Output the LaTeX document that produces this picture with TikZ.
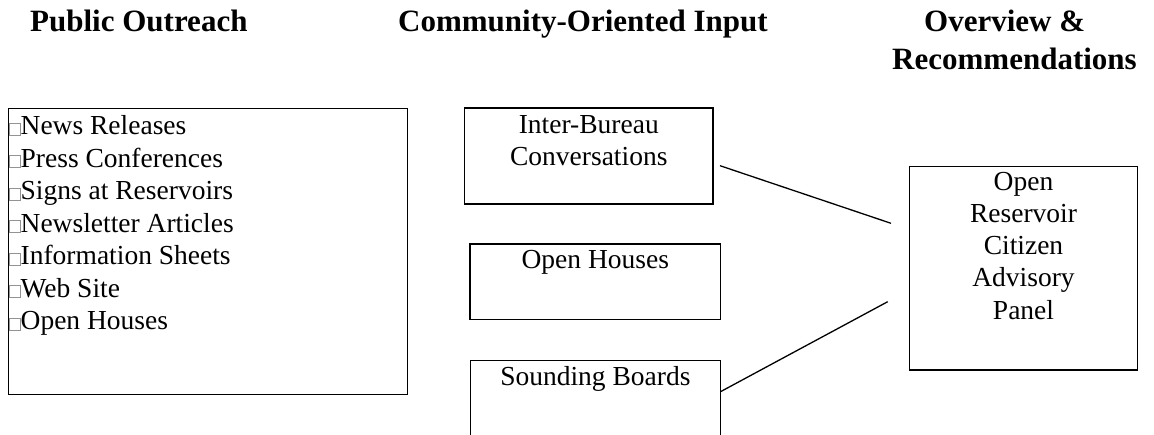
\documentclass[tikz,border=0pt]{standalone}
\usepackage{fontspec}
\setmainfont{Liberation Serif}
\newcommand{\cbox}{{\color{gray!85}\fboxsep=0pt\fboxrule=0.7pt\fbox{\rule{0pt}{11.5pt}\hspace{10.6pt}}}}
\tikzset{
  hdr/.style={anchor=base west, inner sep=0pt, font=\fontsize{31}{38}\selectfont\bfseries},
  frame/.style={draw=black, line width=1.3pt, anchor=north west, inner sep=0pt},
  body/.style={font=\fontsize{27.5}{32.5}\selectfont},
  link/.style={draw=black, line width=1.3pt}
}
\begin{document}
\begin{tikzpicture}[x=1pt,y=-1pt]
\useasboundingbox (0,0) rectangle (1154,435);
% headers
\node[hdr] (pub) at (30,32) {Public Outreach};
\node[hdr] (com) at (398,32) {Community-Oriented Input};
\node[hdr] (ov1) at (924,32) {Overview \&};
\node[hdr] (ov2) at (892,70) {Recommendations};
% left list box
\node[frame, body] (list) at (8,108) {\parbox[t][286pt][t]{399pt}{\raggedright\rule{0pt}{26.3pt}\cbox News Releases\\
\cbox Press Conferences\\
\cbox Signs at Reservoirs\\
\cbox Newsletter Articles\\
\cbox Information Sheets\\
\cbox Web Site\\
\cbox Open Houses}};
% middle boxes
\node[frame, body] (ib) at (464,107.3) {\parbox[t][96pt][t]{248.3pt}{\centering\fontsize{27.5}{31.5}\selectfont\rule{0pt}{25.7pt}Inter-Bureau\\Conversations}};
\node[frame, body] (oh) at (469.3,243.3) {\parbox[t][75.7pt][t]{250.7pt}{\centering\rule{0pt}{24.4pt}Open Houses}};
\node[frame, body] (sb) at (470,360) {\parbox[t][74.5pt][t]{249.5pt}{\centering\rule{0pt}{25pt}Sounding Boards}};
% right box
\node[frame, body] (cap) at (909,166) {\parbox[t][203.3pt][t]{227.7pt}{\centering\fontsize{27.5}{32.1}\selectfont\rule{0pt}{24pt}Open\\Reservoir\\Citizen\\Advisory\\Panel}};
% connectors
\coordinate (c1a) at (720,165.7);
\coordinate (c1b) at (891,223.3);
\coordinate (c2a) at (720.5,391.7);
\coordinate (c2b) at (887.7,301.7);
\draw[link] (c1a) -- (c1b);
\draw[link] (c2a) -- (c2b);
\end{tikzpicture}
\end{document}
